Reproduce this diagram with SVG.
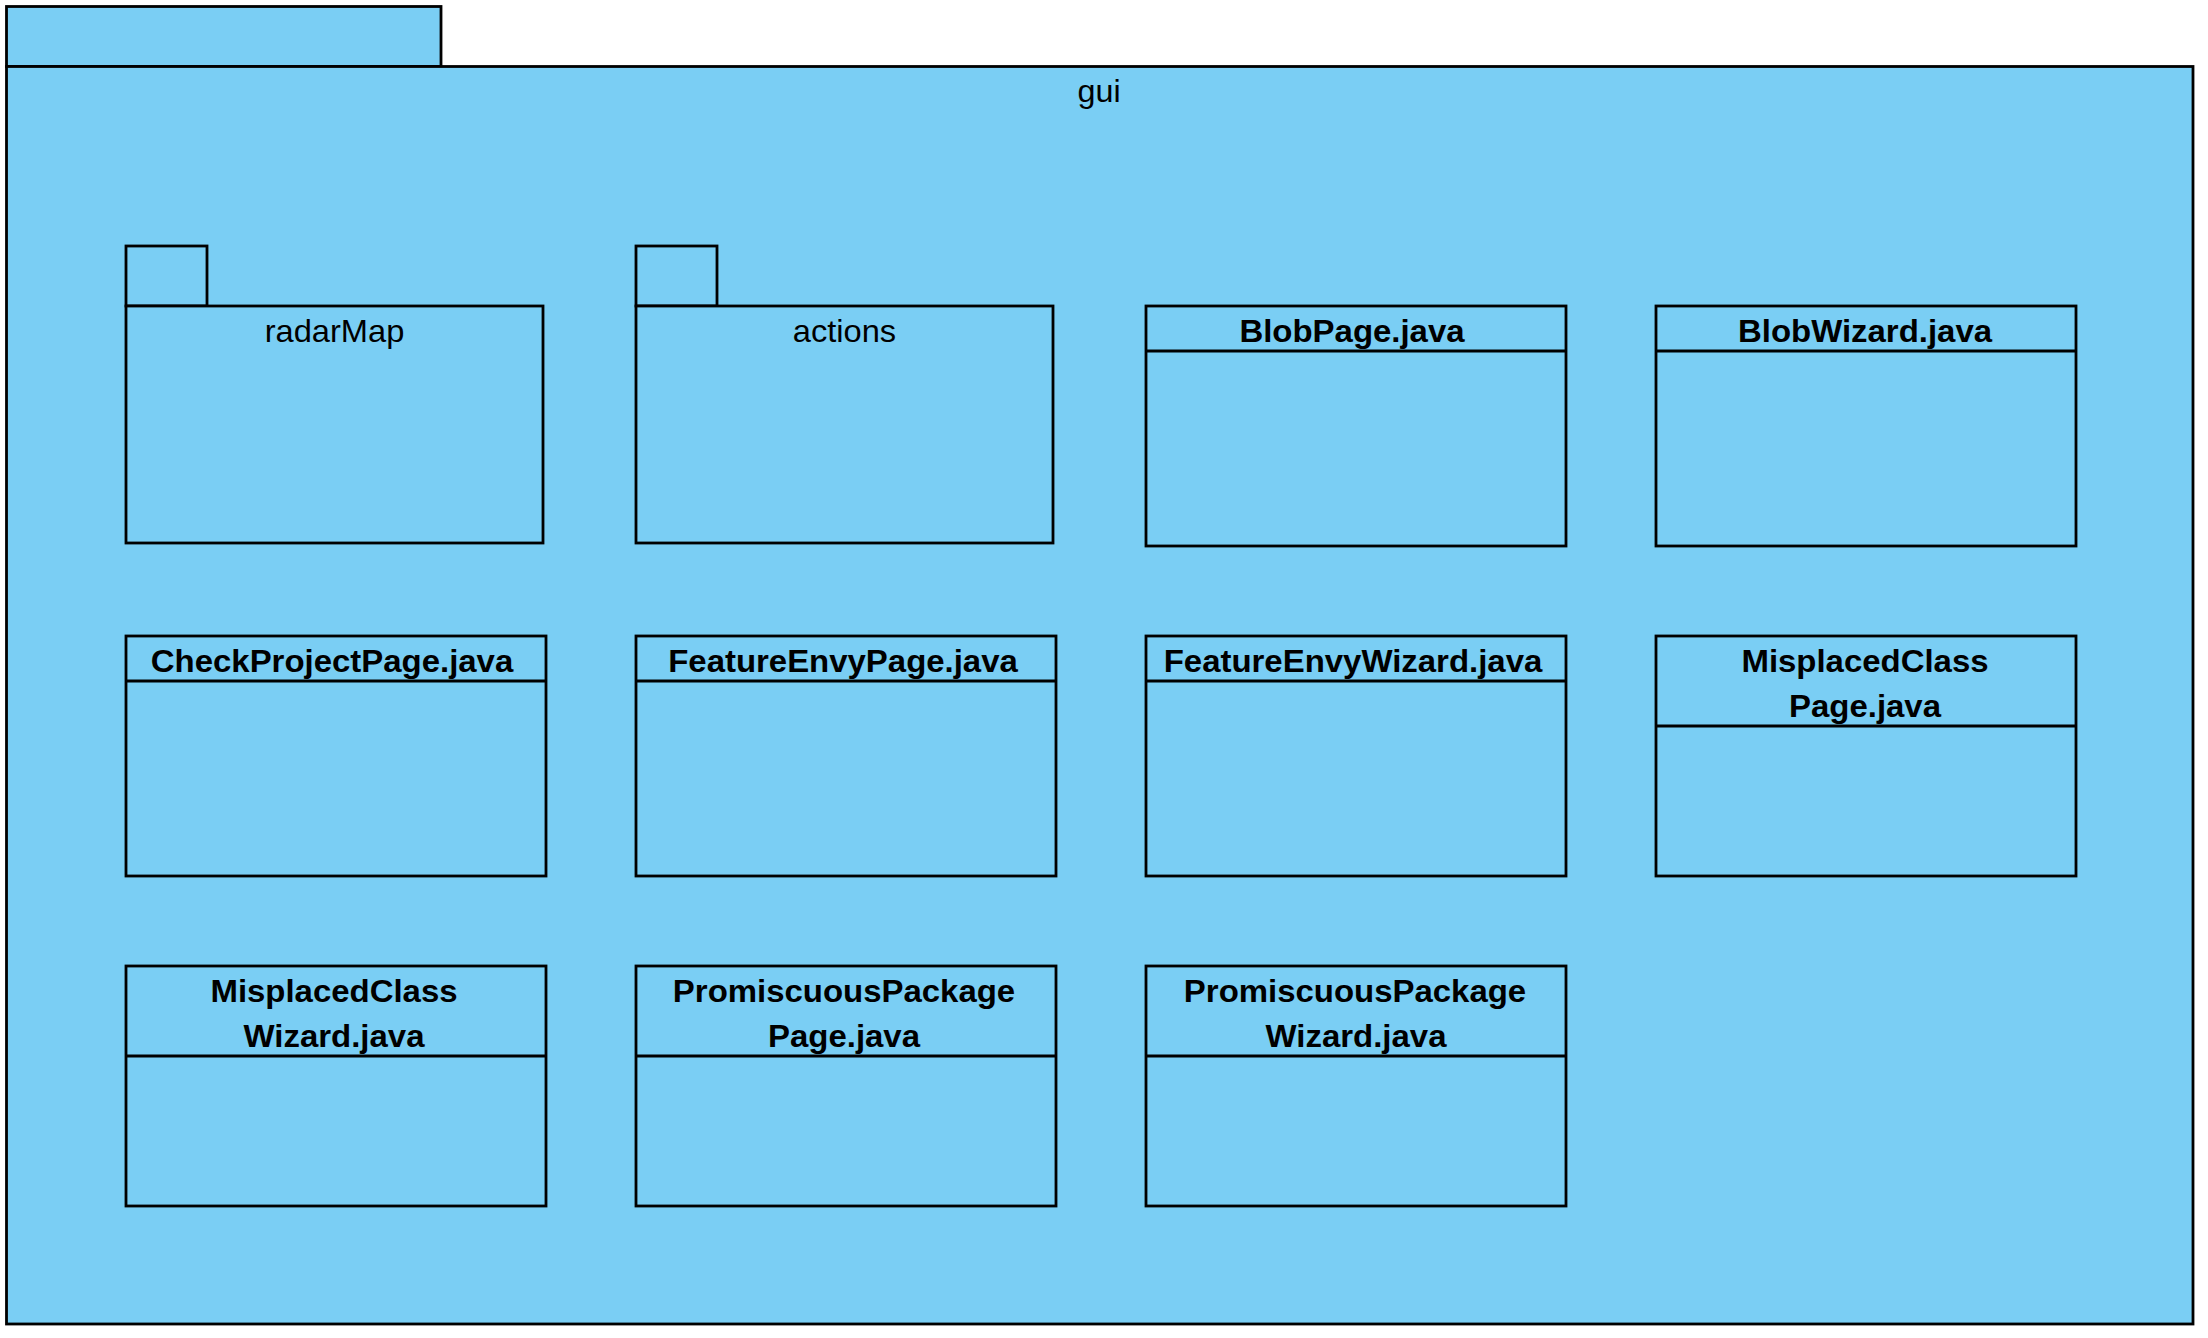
<svg xmlns="http://www.w3.org/2000/svg" width="2208" height="1338" viewBox="0 0 2208 1338">
<style>
  .box { fill: #7ACEF4; stroke: #000; stroke-width: 2.8; }
  .line { stroke: #000; stroke-width: 2.8; fill: none; }
  .pkg { font-family: "Liberation Sans", Arial, sans-serif; font-size: 30.5px; fill: #000; text-anchor: middle; }
  .cls { font-family: "Liberation Sans", Arial, sans-serif; font-size: 30.5px; font-weight: bold; fill: #000; text-anchor: middle; }
</style>
<rect x="0" y="0" width="2208" height="1338" fill="#ffffff"/>
<g id="gui">
  <rect class="box" x="6.5" y="6.5" width="434.5" height="60"/>
  <rect class="box" x="6.5" y="66.5" width="2186.5" height="1257.5"/>
  <text class="pkg" transform="translate(1099,102) scale(1.06,1)">gui</text>
</g>
<g id="radarMap">
  <rect class="box" x="126" y="246" width="81" height="60"/>
  <rect class="box" x="126" y="306" width="417" height="237"/>
  <text class="pkg" transform="translate(334.5,342) scale(1.07,1)">radarMap</text>
</g>
<g id="actions">
  <rect class="box" x="636" y="246" width="81" height="60"/>
  <rect class="box" x="636" y="306" width="417" height="237"/>
  <text class="pkg" transform="translate(844.5,342) scale(1.07,1)">actions</text>
</g>
<g id="BlobPage">
  <rect class="box" x="1146" y="306" width="420" height="240"/>
  <line class="line" x1="1146" y1="351" x2="1566" y2="351"/>
  <text class="cls" transform="translate(1352,341.5) scale(1.08,1)">BlobPage.java</text>
</g>
<g id="BlobWizard">
  <rect class="box" x="1656" y="306" width="420" height="240"/>
  <line class="line" x1="1656" y1="351" x2="2076" y2="351"/>
  <text class="cls" transform="translate(1865,341.5) scale(1.08,1)">BlobWizard.java</text>
</g>
<g id="CheckProjectPage">
  <rect class="box" x="126" y="636" width="420" height="240"/>
  <line class="line" x1="126" y1="681" x2="546" y2="681"/>
  <text class="cls" transform="translate(332,671.5) scale(1.08,1)">CheckProjectPage.java</text>
</g>
<g id="FeatureEnvyPage">
  <rect class="box" x="636" y="636" width="420" height="240"/>
  <line class="line" x1="636" y1="681" x2="1056" y2="681"/>
  <text class="cls" transform="translate(843,671.5) scale(1.08,1)">FeatureEnvyPage.java</text>
</g>
<g id="FeatureEnvyWizard">
  <rect class="box" x="1146" y="636" width="420" height="240"/>
  <line class="line" x1="1146" y1="681" x2="1566" y2="681"/>
  <text class="cls" transform="translate(1353,671.5) scale(1.08,1)">FeatureEnvyWizard.java</text>
</g>
<g id="MisplacedClassPage">
  <rect class="box" x="1656" y="636" width="420" height="240"/>
  <line class="line" x1="1656" y1="726" x2="2076" y2="726"/>
  <text class="cls" transform="translate(1865,671.5) scale(1.08,1)">MisplacedClass</text>
  <text class="cls" transform="translate(1865,716.5) scale(1.08,1)">Page.java</text>
</g>
<g id="MisplacedClassWizard">
  <rect class="box" x="126" y="966" width="420" height="240"/>
  <line class="line" x1="126" y1="1056" x2="546" y2="1056"/>
  <text class="cls" transform="translate(334,1001.5) scale(1.08,1)">MisplacedClass</text>
  <text class="cls" transform="translate(334,1046.5) scale(1.08,1)">Wizard.java</text>
</g>
<g id="PromiscuousPackagePage">
  <rect class="box" x="636" y="966" width="420" height="240"/>
  <line class="line" x1="636" y1="1056" x2="1056" y2="1056"/>
  <text class="cls" transform="translate(844,1001.5) scale(1.08,1)">PromiscuousPackage</text>
  <text class="cls" transform="translate(844,1046.5) scale(1.08,1)">Page.java</text>
</g>
<g id="PromiscuousPackageWizard">
  <rect class="box" x="1146" y="966" width="420" height="240"/>
  <line class="line" x1="1146" y1="1056" x2="1566" y2="1056"/>
  <text class="cls" transform="translate(1355,1001.5) scale(1.08,1)">PromiscuousPackage</text>
  <text class="cls" transform="translate(1356,1046.5) scale(1.08,1)">Wizard.java</text>
</g>
<g id="connectors"></g>
</svg>
